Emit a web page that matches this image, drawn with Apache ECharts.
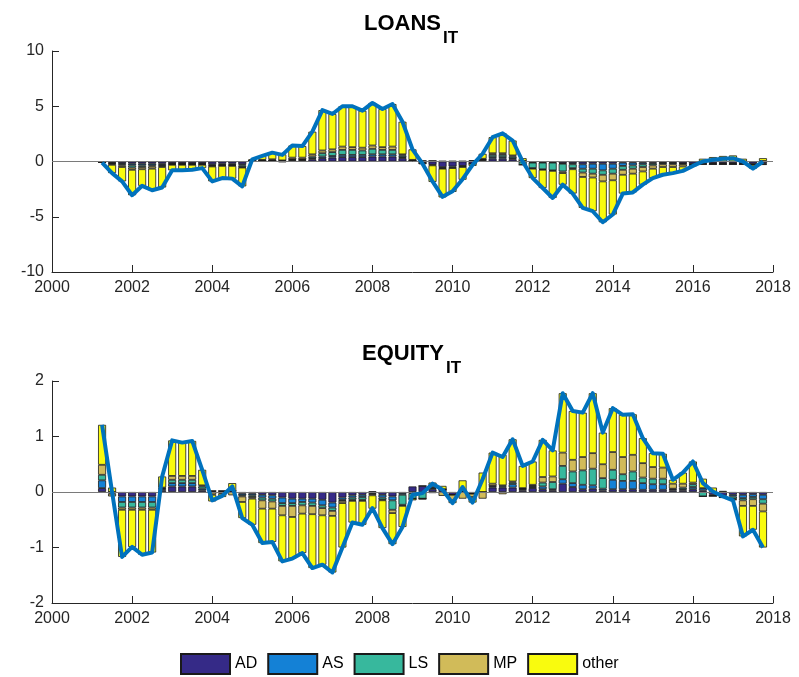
<!DOCTYPE html>
<html>
<head>
<meta charset="utf-8">
<script src="https://cdn.jsdelivr.net/npm/echarts@6/dist/echarts.min.js"></script>
<style>
  html, body { margin: 0; padding: 0; background: #fff; }
  #chart { width: 799px; height: 677px; }
</style>
</head>
<body>
<div id="chart"></div>
<script>
// axis runs 2000..2018 in quarters; data start at 2001.25 and end at 2017.75
const axisStart = 2000;
const axisEnd = 2018;
const firstDate = 2001.25;
const shockNames = ['AD', 'AS', 'LS', 'MP', 'other'];
const shockColors = ['#352a87', '#1481d6', '#37b89d', '#d1bb59', '#f9fb0e'];

// LOANS_IT historical decomposition
const loansAD = [-0.05,-0.1,-0.15,-0.2,-0.2,-0.2,-0.2,-0.15,-0.15,-0.15,-0.15,-0.25,-0.2,-0.2,-0.25,0.05,0.05,0.05,-0.05,0.1,0.1,0.2,0.3,0.35,0.4,0.4,0.4,0.45,0.45,0.45,0.3,0.05,-0.15,-0.3,-0.5,-0.45,-0.4,-0.2,0.1,0.25,0.25,0.2,0.05,-0.05,-0.05,-0.05,-0.15,-0.15,-0.25,-0.2,-0.2,-0.2,-0.1,-0.1,-0.1,-0.1,-0.1,-0.1,-0.15,-0.2,-0.15,-0.15,-0.15,-0.15,-0.15,-0.2,-0.15];
const loansAS = [0,-0.05,-0.1,-0.15,-0.15,-0.15,-0.1,-0.05,-0.05,-0.05,-0.05,-0.1,-0.1,-0.1,-0.1,0,0.02,0.02,0.02,0.05,0.05,0.1,0.15,0.15,0.2,0.2,0.2,0.2,0.2,0.2,0.1,0,0,-0.05,-0.1,-0.1,-0.05,0,0.05,0.15,0.15,0.1,0,-0.05,-0.05,-0.05,-0.05,-0.1,-0.4,-0.45,-0.6,-0.45,-0.3,-0.25,-0.15,-0.1,-0.05,-0.05,-0.05,-0.05,-0.05,-0.05,-0.05,-0.05,-0.05,-0.05,-0.1];
const loansLS = [0,-0.05,-0.1,-0.2,-0.15,-0.1,-0.1,-0.05,-0.05,-0.05,-0.05,-0.05,-0.05,-0.05,-0.15,0,0.03,0.03,0.03,0.05,0.05,0.15,0.3,0.35,0.45,0.45,0.4,0.5,0.4,0.4,0.15,0.05,0.05,0.05,0.05,0.05,0.05,0.05,0.05,0.2,0.2,0.15,-0.3,-0.5,-0.6,-0.7,-0.7,-0.35,-0.35,-0.45,-0.4,-0.45,-0.35,-0.3,-0.25,-0.15,-0.1,-0.1,-0.05,-0.05,-0.05,-0.05,-0.05,-0.05,-0.05,-0.05,-0.05];
const loansMP = [-0.02,-0.1,-0.15,-0.2,-0.2,-0.2,-0.1,-0.05,-0.05,-0.05,-0.05,-0.05,-0.05,-0.05,-0.05,0.05,0.05,0.1,0.05,0.15,0.15,0.2,0.25,0.25,0.3,0.25,0.25,0.3,0.25,0.3,0.1,0.05,0,0,-0.05,-0.05,-0.05,0.05,0.05,0.15,0.15,0.1,0,-0.05,-0.05,-0.05,-0.15,-0.1,-0.4,-0.35,-0.6,-0.6,-0.45,-0.45,-0.4,-0.3,-0.25,-0.25,-0.2,-0.05,0,0,0,0,0,0,0.05];
const loansOther = [-0.03,-0.75,-1.3,-2.3,-1.5,-1.95,-1.85,-0.5,-0.5,-0.45,-0.3,-1.35,-1.1,-1.15,-1.7,0.1,0.35,0.6,0.55,1.1,1.05,2.05,3.65,3.2,3.65,3.7,3.35,3.85,3.45,3.85,2.95,0.95,-0.1,-1.5,-2.6,-2.15,-1.15,-0.2,0.45,1.45,1.8,1.35,0.25,-0.85,-1.65,-2.45,-1.05,-2.2,-2.8,-3.05,-3.7,-3.1,-1.7,-1.7,-1.2,-0.85,-0.7,-0.55,-0.4,-0.05,0.25,0.4,0.5,0.55,0.25,-0.35,0.25];
const loansTotal = [-0.1,-1.05,-1.8,-3.05,-2.2,-2.6,-2.35,-0.8,-0.8,-0.75,-0.6,-1.8,-1.5,-1.55,-2.25,0.2,0.5,0.8,0.6,1.45,1.4,2.7,4.65,4.3,5.0,5.0,4.6,5.3,4.75,5.2,3.6,1.1,-0.2,-1.8,-3.2,-2.7,-1.6,-0.3,0.7,2.2,2.55,1.9,0.0,-1.5,-2.4,-3.3,-2.1,-2.9,-4.2,-4.5,-5.5,-4.8,-2.9,-2.8,-2.1,-1.5,-1.2,-1.05,-0.85,-0.4,0.0,0.15,0.25,0.3,0.0,-0.65,0.0];

// EQUITY_IT historical decomposition
const equityAD = [0.07,0,-0.08,-0.08,-0.08,-0.08,0.03,0.1,0.1,0.1,0.03,0.02,0.02,0.02,-0.03,-0.03,-0.05,-0.06,-0.1,-0.12,-0.12,-0.12,-0.14,-0.19,-0.1,-0.06,-0.05,0.01,-0.05,-0.08,-0.02,0.1,0.11,0.05,0.05,-0.05,0.01,-0.03,0,0.08,0.08,0.08,0.03,0.07,0.05,0.03,0.15,0.09,0.05,0.06,0.03,0.05,0.05,0.05,0.04,0.04,0.04,0.03,0.03,0.05,0.03,-0.05,-0.06,-0.05,-0.05,-0.04,-0.05];
const equityAS = [0.14,0,-0.1,-0.1,-0.1,-0.1,0.02,0.06,0.06,0.06,0.03,0,0,0,-0.03,-0.03,-0.05,-0.06,-0.1,-0.08,-0.06,-0.07,-0.1,-0.09,-0.04,-0.04,-0.04,-0.02,-0.05,-0.07,-0.03,-0.02,0,0.02,0,0,0,0,0,0.02,0.02,0.06,0.02,0.02,0.05,0.02,0.08,0.07,0.08,0.06,0.03,0.17,0.15,0.15,0.12,0.1,0.1,0.02,0.02,0.04,0.04,-0.02,-0.02,-0.03,-0.06,-0.05,-0.08];
const equityLS = [0.1,-0.03,-0.1,-0.1,-0.1,-0.1,0.02,0.06,0.06,0.06,0.04,-0.01,-0.01,0,-0.02,-0.03,-0.05,-0.05,-0.05,-0.05,-0.06,-0.06,-0.05,-0.06,-0.02,-0.04,-0.05,-0.02,-0.04,-0.17,-0.18,-0.1,-0.12,0.02,0,0,0,0,0,0.01,0.02,0.03,0.01,0.02,0.07,0.13,0.24,0.21,0.26,0.3,0.19,0.18,0.12,0.17,0.1,0.1,0.1,0.01,0.03,0.05,-0.08,0,-0.02,-0.04,-0.04,-0.04,-0.08];
const equityMP = [0.18,-0.05,-0.04,-0.04,-0.04,-0.04,0.01,0.07,0.07,0.07,0.02,-0.04,-0.02,-0.06,-0.1,-0.03,-0.15,-0.13,-0.17,-0.2,-0.15,-0.15,-0.13,-0.09,-0.04,-0.02,-0.02,-0.02,-0.01,-0.06,-0.02,0,0,-0.02,-0.07,-0.1,-0.12,-0.06,-0.12,0.04,-0.04,0.02,0.01,0.02,0.1,0.1,0.24,0.21,0.24,0.28,0.25,0.32,0.31,0.3,0.26,0.21,0.2,0.09,0.07,0.03,0,0,0,-0.01,-0.1,-0.12,-0.14];
const equityOther = [0.72,0.08,-0.85,-0.67,-0.81,-0.77,0.2,0.64,0.6,0.63,0.28,-0.12,-0.06,0.14,-0.29,-0.47,-0.62,-0.6,-0.83,-0.75,-0.71,-0.97,-0.89,-1.02,-0.8,-0.39,-0.43,-0.24,-0.5,-0.56,-0.38,-0.03,-0.01,0.08,0.06,-0.05,0.2,-0.1,0.35,0.56,0.55,0.76,0.4,0.42,0.67,0.47,1.07,0.88,0.8,1.08,0.57,0.79,0.76,0.73,0.45,0.25,0.25,0.07,0.2,0.38,0.17,0.08,0.02,-0.02,-0.55,-0.43,-0.65];
const equityTotal = [1.21,0.0,-1.17,-0.99,-1.13,-1.09,0.28,0.93,0.89,0.92,0.4,-0.15,-0.07,0.1,-0.47,-0.59,-0.92,-0.9,-1.25,-1.2,-1.1,-1.37,-1.31,-1.45,-1.0,-0.55,-0.59,-0.29,-0.65,-0.94,-0.63,-0.05,-0.02,0.15,0.04,-0.2,0.09,-0.19,0.23,0.71,0.63,0.95,0.47,0.55,0.94,0.75,1.78,1.46,1.43,1.78,1.07,1.51,1.39,1.4,0.97,0.7,0.69,0.22,0.35,0.55,0.16,0.01,-0.08,-0.15,-0.8,-0.68,-1.0];

// quarterly category axis, ticks/labels every 2 years
const quarters = [];
for (let q = 0; q <= (axisEnd - axisStart) * 4; q++) quarters.push(String(axisStart + q / 4));
const lead = (firstDate - axisStart) * 4;
const pad = arr => {
  const out = quarters.map(() => '-');
  arr.forEach((v, i) => { out[lead + i] = v; });
  return out;
};

const axisColor = '#262626';
const font = 'Liberation Sans, Arial, sans-serif';

function xAxisFor(grid) {
  return {
    type: 'category', gridIndex: grid, data: quarters, boundaryGap: false,
    axisLine: { show: true, onZero: false, lineStyle: { color: axisColor, width: 1 } },
    axisTick: { show: true, inside: true, length: 7, interval: 7, lineStyle: { color: axisColor } },
    axisLabel: { color: axisColor, fontSize: 16, fontFamily: font, margin: 8, interval: 7 },
    splitLine: { show: false }
  };
}
function yAxisFor(grid, lo, hi, step) {
  return {
    type: 'value', gridIndex: grid, min: lo, max: hi, interval: step,
    axisLine: { show: true, lineStyle: { color: axisColor, width: 1 } },
    axisTick: { show: true, inside: true, length: 7, lineStyle: { color: axisColor } },
    axisLabel: { color: axisColor, fontSize: 16, fontFamily: font, margin: 8 },
    splitLine: { show: false }
  };
}

function panelSeries(grid, comps, total, stackName) {
  const out = comps.map((arr, k) => ({
    name: shockNames[k], type: 'bar', xAxisIndex: grid, yAxisIndex: grid,
    stack: stackName, stackStrategy: 'samesign', barWidth: 8,
    itemStyle: { color: shockColors[k], borderColor: '#1a1a1a', borderWidth: 0.8 },
    data: pad(arr)
  }));
  out[0].markLine = {
    silent: true, symbol: 'none', animation: false, label: { show: false },
    lineStyle: { color: '#7a7a7a', width: 1, type: 'solid' },
    data: [{ yAxis: 0 }]
  };
  out.push({
    name: 'total', type: 'line', xAxisIndex: grid, yAxisIndex: grid,
    showSymbol: false, z: 5,
    lineStyle: { color: '#0072bd', width: 4, join: 'round' },
    data: pad(total)
  });
  return out;
}

const titleBig = { fontFamily: font, fontSize: 22, fontWeight: 'bold', color: '#000' };
const titleSub = { fontFamily: font, fontSize: 17, fontWeight: 'bold', color: '#000' };

const chart = echarts.init(document.getElementById('chart'));
chart.setOption({
  animation: false,
  backgroundColor: '#fff',
  title: [
    { text: 'LOANS', left: 364, top: 13, padding: 0, textStyle: titleBig },
    { text: 'IT', left: 443, top: 30, padding: 0, textStyle: titleSub },
    { text: 'EQUITY', left: 362, top: 343, padding: 0, textStyle: titleBig },
    { text: 'IT', left: 446, top: 360, padding: 0, textStyle: titleSub }
  ],
  legend: {
    data: shockNames, left: 180, top: 653, padding: 0,
    itemWidth: 49, itemHeight: 20, itemGap: 10, icon: 'rect',
    textStyle: { fontFamily: font, fontSize: 16, color: '#000' }
  },
  grid: [
    { left: 52, top: 51, width: 721, height: 221 },
    { left: 52, top: 381, width: 721, height: 222 }
  ],
  xAxis: [xAxisFor(0), xAxisFor(1)],
  yAxis: [yAxisFor(0, -10, 10, 5), yAxisFor(1, -2, 2, 1)],
  series: [
    ...panelSeries(0, [loansAD, loansAS, loansLS, loansMP, loansOther], loansTotal, 'loans'),
    ...panelSeries(1, [equityAD, equityAS, equityLS, equityMP, equityOther], equityTotal, 'equity')
  ]
});
</script>
</body>
</html>
